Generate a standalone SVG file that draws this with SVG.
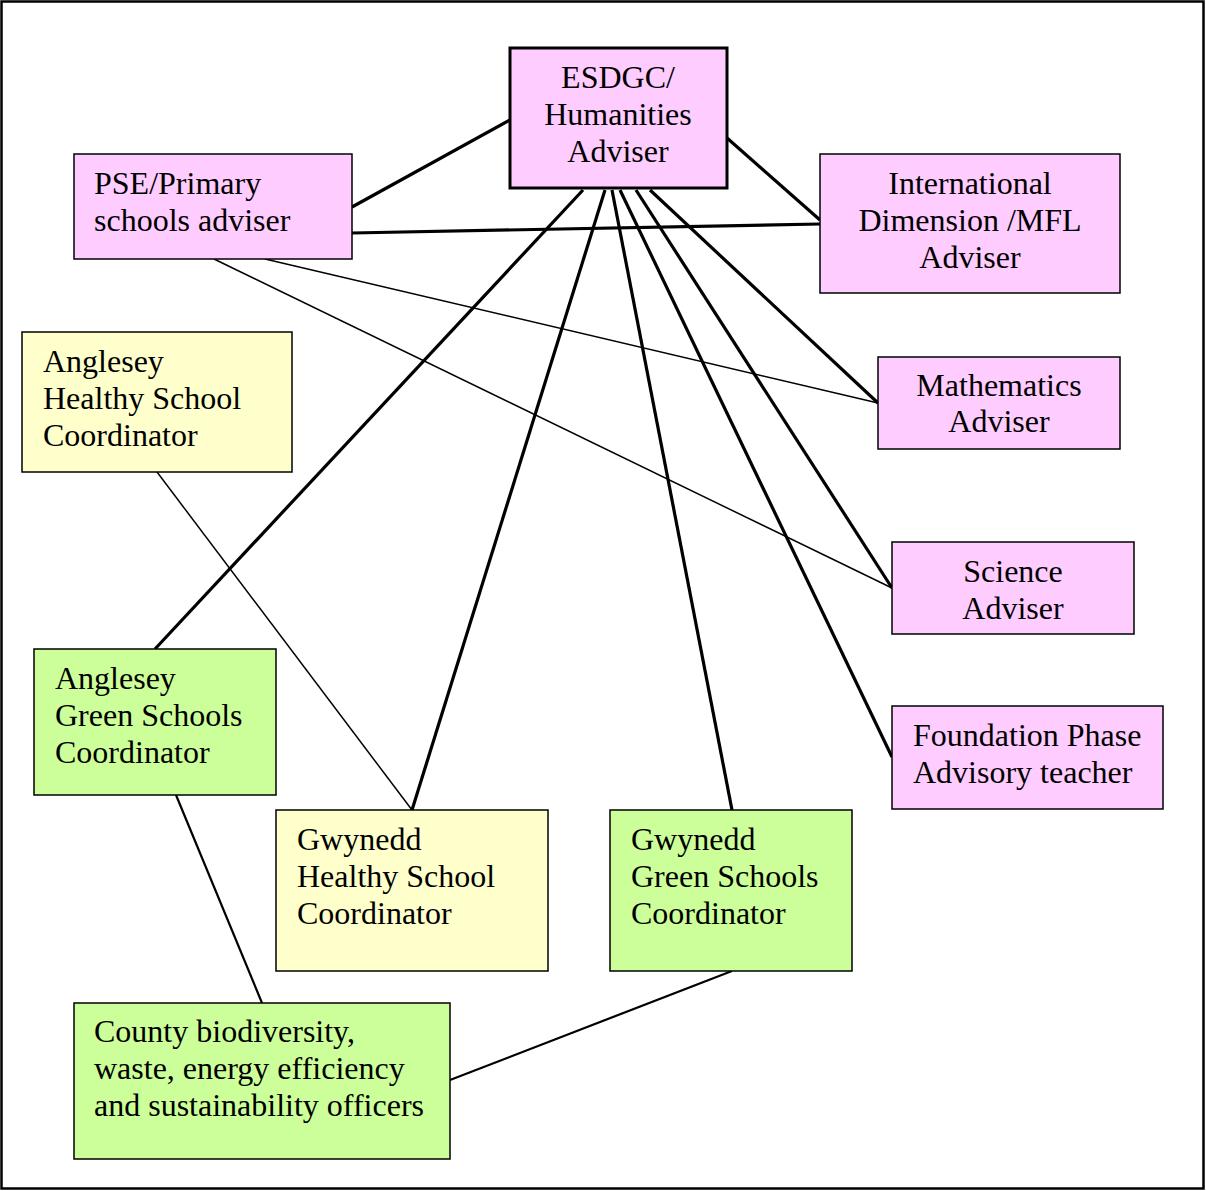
<svg xmlns="http://www.w3.org/2000/svg" width="1206" height="1191" viewBox="0 0 1206 1191">
  <style>
    .box { stroke: #000; stroke-width: 1.5; }
    .pink { fill: #FFCCFF; }
    .yellow { fill: #FFFFCC; }
    .green { fill: #CCFF99; }
    .lbl { font-family: "Liberation Serif", "Times New Roman", serif; font-size: 32px; fill: #000; }
    .mid { text-anchor: middle; }
    .thick { stroke: #000; stroke-width: 3.2; fill: none; }
    .med { stroke: #000; stroke-width: 2.2; fill: none; }
    .thin { stroke: #000; stroke-width: 1.5; fill: none; }
  </style>

  <rect x="0" y="0" width="1206" height="1191" fill="#fff"/>
  <rect x="1.5" y="1.5" width="1202" height="1187" fill="none" stroke="#000" stroke-width="2.5"/>

  <g id="connectors">
    <line class="thick" x1="510" y1="120" x2="352" y2="207"/>
    <line class="thick" x1="727" y1="138" x2="820" y2="220"/>
    <line class="thick" x1="352" y1="233" x2="820" y2="224"/>
    <line class="thick" x1="583" y1="190" x2="155" y2="649"/>
    <line class="thick" x1="605" y1="190" x2="412" y2="810"/>
    <line class="thick" x1="612" y1="190" x2="732" y2="810"/>
    <line class="thick" x1="620" y1="190" x2="892" y2="757"/>
    <line class="thick" x1="636" y1="190" x2="892" y2="588"/>
    <line class="thick" x1="650" y1="190" x2="878" y2="403"/>
    <line class="thin" x1="214" y1="259" x2="892" y2="588"/>
    <line class="thin" x1="265" y1="259" x2="878" y2="403"/>
    <line class="thin" x1="157" y1="472" x2="412" y2="810"/>
    <line class="med" x1="176" y1="795" x2="262" y2="1003"/>
    <line class="med" x1="732" y1="971" x2="450" y2="1080"/>
  </g>

  <g id="esdgc">
    <rect class="pink" x="510" y="48" width="217" height="140" stroke="#000" stroke-width="3"/>
    <text class="lbl mid" x="618" y="88">ESDGC/</text>
    <text class="lbl mid" x="618" y="125">Humanities</text>
    <text class="lbl mid" x="618" y="162">Adviser</text>
  </g>

  <g id="pse">
    <rect class="box pink" x="74" y="154" width="278" height="105"/>
    <text class="lbl" x="94" y="194">PSE/Primary</text>
    <text class="lbl" x="94" y="231">schools adviser</text>
  </g>

  <g id="international">
    <rect class="box pink" x="820" y="154" width="300" height="139"/>
    <text class="lbl mid" x="970" y="194">International</text>
    <text class="lbl mid" x="970" y="231">Dimension /MFL</text>
    <text class="lbl mid" x="970" y="268">Adviser</text>
  </g>

  <g id="mathematics">
    <rect class="box pink" x="878" y="357" width="242" height="92"/>
    <text class="lbl mid" x="999" y="396">Mathematics</text>
    <text class="lbl mid" x="999" y="432">Adviser</text>
  </g>

  <g id="science">
    <rect class="box pink" x="892" y="542" width="242" height="92"/>
    <text class="lbl mid" x="1013" y="582">Science</text>
    <text class="lbl mid" x="1013" y="619">Adviser</text>
  </g>

  <g id="foundation">
    <rect class="box pink" x="892" y="706" width="271" height="103"/>
    <text class="lbl" x="913" y="746">Foundation Phase</text>
    <text class="lbl" x="913" y="783">Advisory teacher</text>
  </g>

  <g id="anglesey-healthy">
    <rect class="box yellow" x="22" y="332" width="270" height="140"/>
    <text class="lbl" x="43" y="372">Anglesey</text>
    <text class="lbl" x="43" y="409">Healthy School</text>
    <text class="lbl" x="43" y="446">Coordinator</text>
  </g>

  <g id="anglesey-green">
    <rect class="box green" x="34" y="649" width="242" height="146"/>
    <text class="lbl" x="55" y="689">Anglesey</text>
    <text class="lbl" x="55" y="726">Green Schools</text>
    <text class="lbl" x="55" y="763">Coordinator</text>
  </g>

  <g id="gwynedd-healthy">
    <rect class="box yellow" x="276" y="810" width="272" height="161"/>
    <text class="lbl" x="297" y="850">Gwynedd</text>
    <text class="lbl" x="297" y="887">Healthy School</text>
    <text class="lbl" x="297" y="924">Coordinator</text>
  </g>

  <g id="gwynedd-green">
    <rect class="box green" x="610" y="810" width="242" height="161"/>
    <text class="lbl" x="631" y="850">Gwynedd</text>
    <text class="lbl" x="631" y="887">Green Schools</text>
    <text class="lbl" x="631" y="924">Coordinator</text>
  </g>

  <g id="county">
    <rect class="box green" x="74" y="1003" width="376" height="156"/>
    <text class="lbl" x="94" y="1042">County biodiversity,</text>
    <text class="lbl" x="94" y="1079">waste, energy efficiency</text>
    <text class="lbl" x="94" y="1116">and sustainability officers</text>
  </g>
</svg>
